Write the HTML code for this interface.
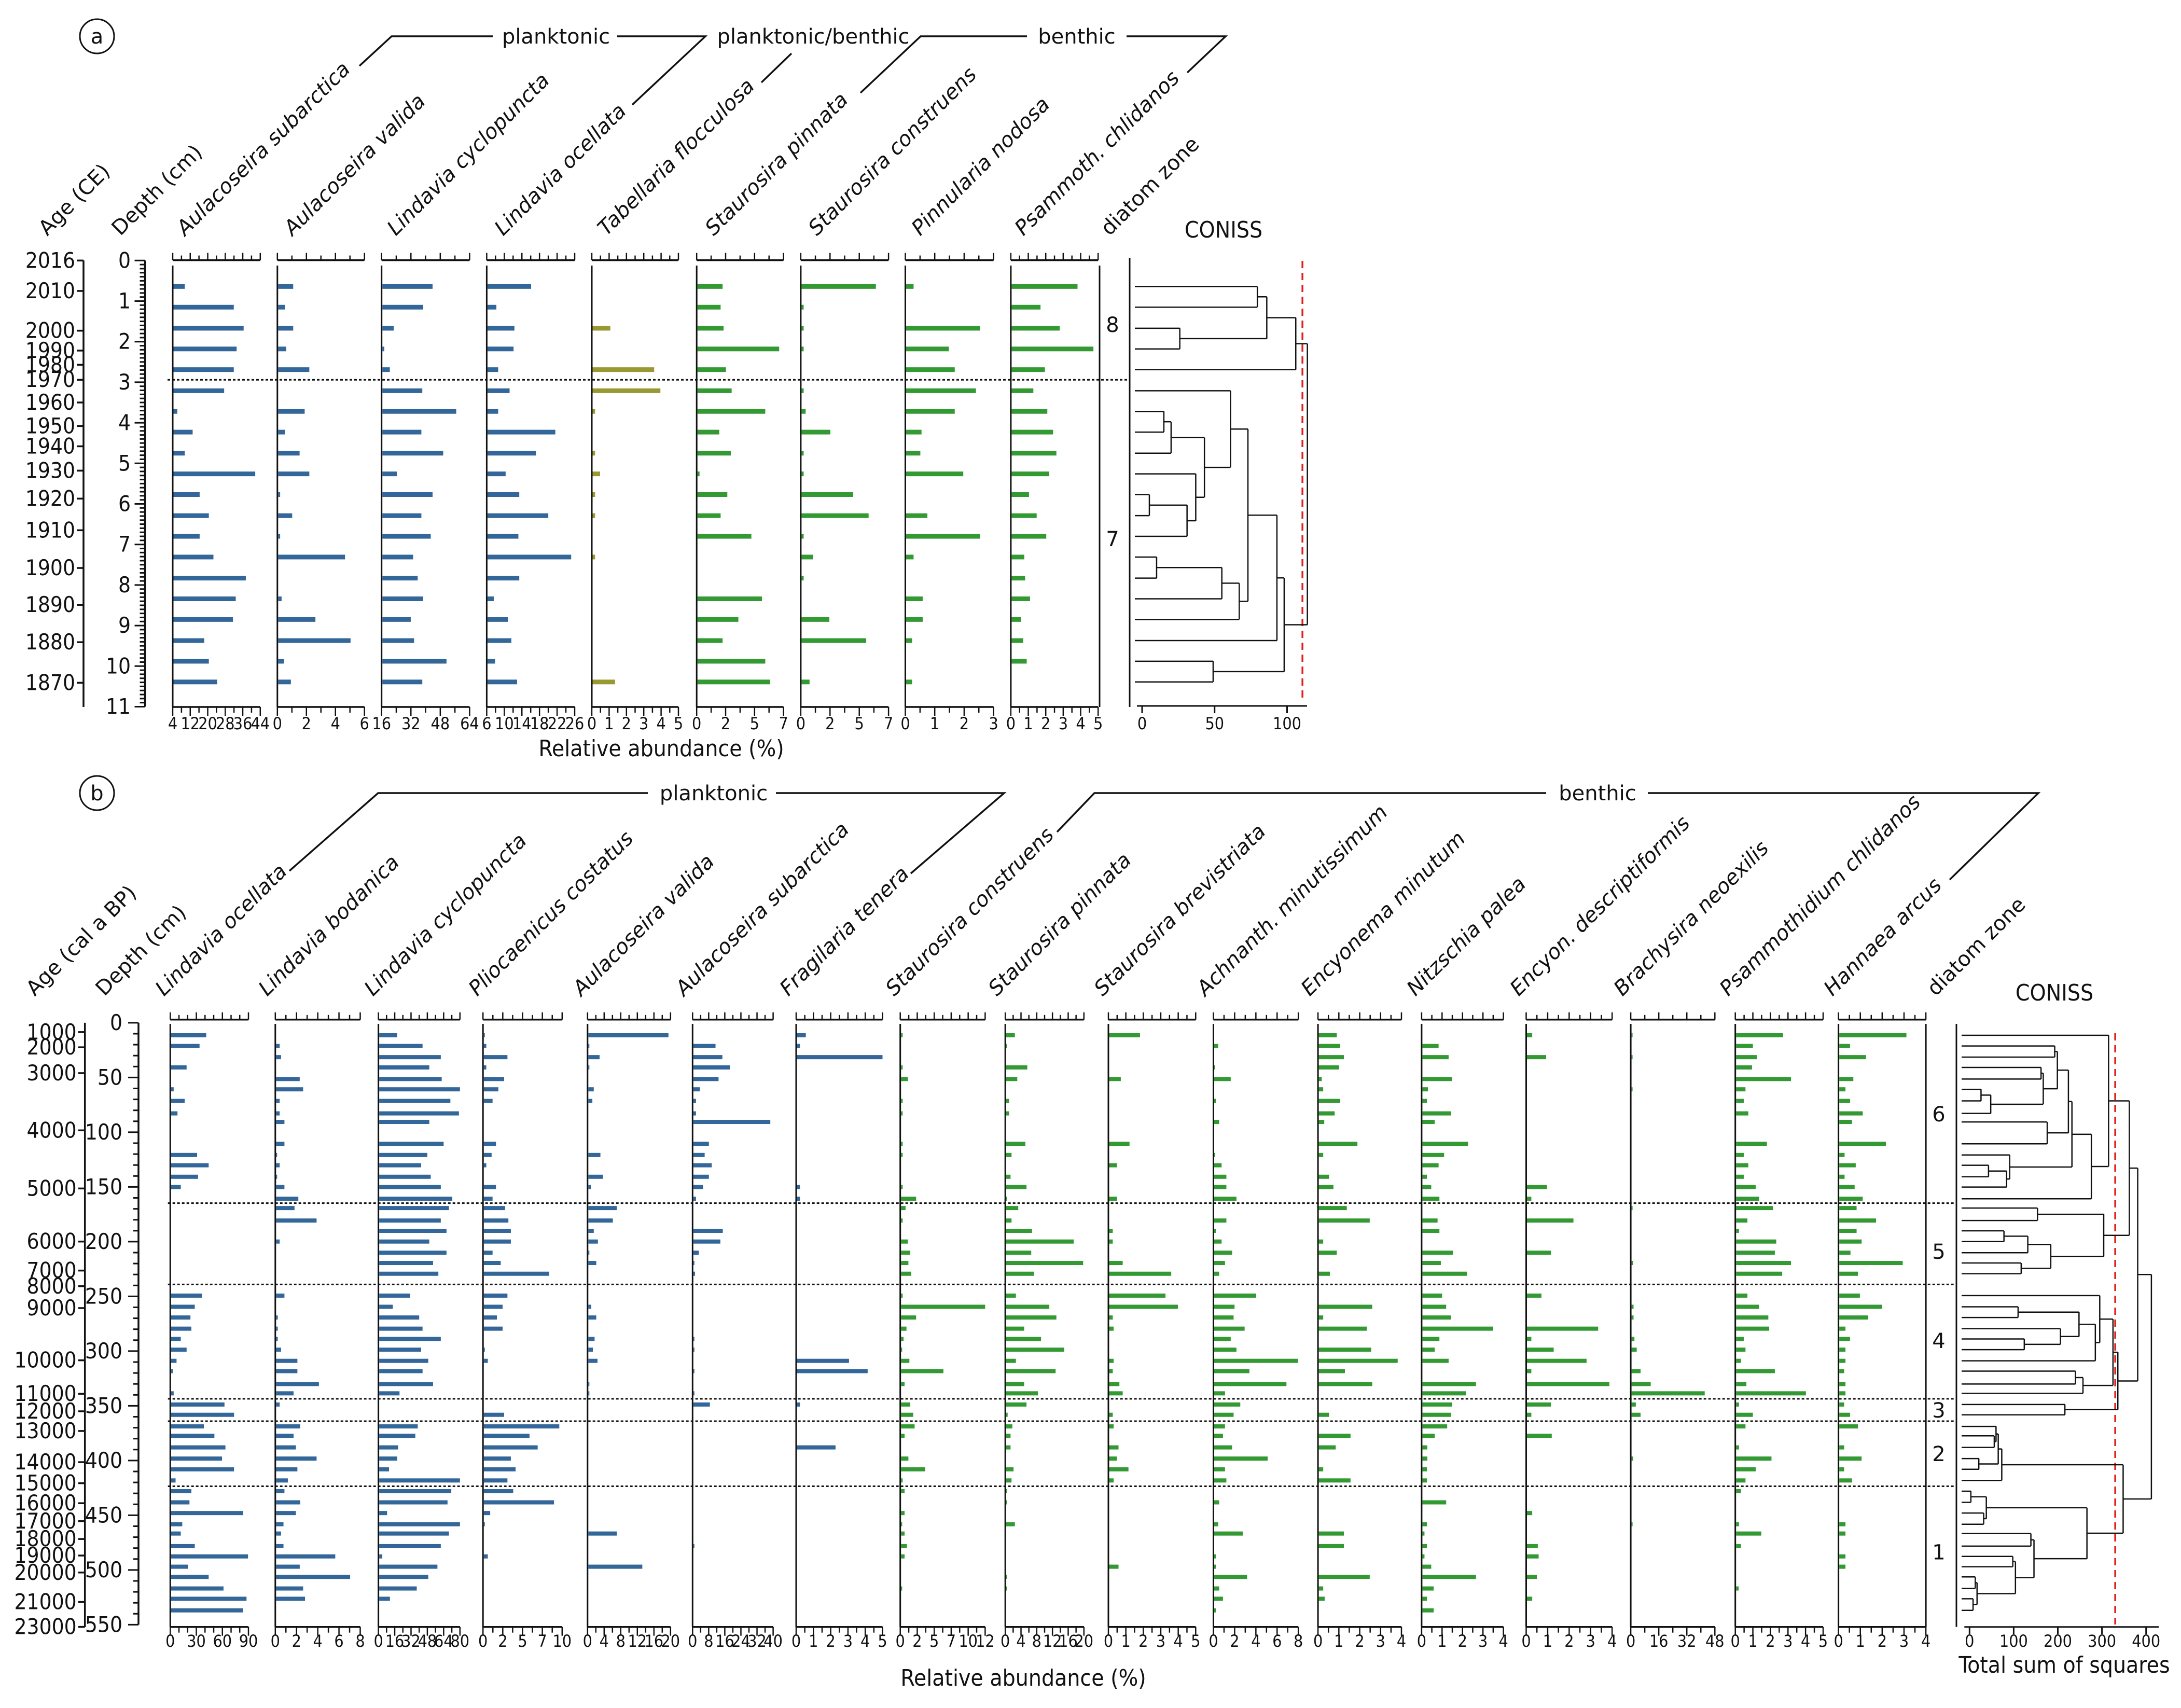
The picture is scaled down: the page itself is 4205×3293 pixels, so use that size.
<!DOCTYPE html>
<html><head><meta charset="utf-8">
<style>
html,body{margin:0;padding:0;background:#fff;}
svg{display:block;}
text{font-family:"DejaVu Sans","Liberation Sans",sans-serif;fill:#111;}
.nar{font-family:"Liberation Sans Narrow","DejaVu Sans Condensed","Liberation Sans",sans-serif;}
</style></head>
<body>
<svg id="chart" xmlns="http://www.w3.org/2000/svg" width="4205" height="3293" viewBox="0 0 4205 3293">
<rect x="0" y="0" width="4205" height="3293" fill="#fff"/>
<g>
<circle cx="187" cy="70" r="33" fill="none" stroke="#111" stroke-width="3"/>
<text x="187" y="84" font-size="40" text-anchor="middle">a</text>
<polyline points="693,127 755,70 950,70" fill="none" stroke="#111" stroke-width="3.5"/>
<polyline points="1190,70 1360,70 1219,202" fill="none" stroke="#111" stroke-width="3.5"/>
<text x="1072" y="84" font-size="40" text-anchor="middle">planktonic</text>
<line x1="1526" y1="103" x2="1468" y2="159" stroke="#111" stroke-width="3.5"/>
<text x="1568" y="84" font-size="40" text-anchor="middle">planktonic/benthic</text>
<polyline points="1659,179 1775,70 1980,70" fill="none" stroke="#111" stroke-width="3.5"/>
<text x="2076" y="84" font-size="40" text-anchor="middle">benthic</text>
<polyline points="2172,70 2363,70 2289,140" fill="none" stroke="#111" stroke-width="3.5"/>
<text x="2359" y="458" font-size="44" text-anchor="middle" class="nar">CONISS</text>
</g>
<g>
<circle cx="187" cy="1529" r="33" fill="none" stroke="#111" stroke-width="3"/>
<text x="187" y="1543" font-size="40" text-anchor="middle">b</text>
<polyline points="558,1679 729,1529 1249,1529" fill="none" stroke="#111" stroke-width="3.5"/>
<text x="1376" y="1543" font-size="40" text-anchor="middle">planktonic</text>
<polyline points="1496,1529 1936,1529 1756,1684" fill="none" stroke="#111" stroke-width="3.5"/>
<polyline points="2038,1604 2110,1529 2981,1529" fill="none" stroke="#111" stroke-width="3.5"/>
<text x="3080" y="1543" font-size="40" text-anchor="middle">benthic</text>
<polyline points="3177,1529 3930,1529 3759,1696" fill="none" stroke="#111" stroke-width="3.5"/>
<text x="3961" y="1929" font-size="44" text-anchor="middle" class="nar">CONISS</text>
</g>
</svg>
<script>
// ---------------- DATA: panel a ----------------
const aDepths=[0.64,1.15,1.67,2.18,2.69,3.21,3.72,4.23,4.75,5.26,5.77,6.29,6.80,7.31,7.83,8.34,8.85,9.37,9.88,10.39];
const aNames=["Age (CE)","Depth (cm)","Aulacoseira subarctica","Aulacoseira valida","Lindavia cyclopuncta","Lindavia ocellata","Tabellaria flocculosa","Staurosira pinnata","Staurosira construens","Pinnularia nodosa","Psammoth. chlidanos","diatom zone"];
const aAgeLabels=["2016","2010","2000","1990","1980","1970","1960","1950","1940","1930","1920","1910","1900","1890","1880","1870"];
const aAgeDepths=[0,0.75,1.73,2.22,2.57,2.94,3.5,4.08,4.58,5.18,5.87,6.65,7.58,8.49,9.41,10.41];
const aSubarctica=[9.5,31.9,36.4,33.2,31.9,27.5,6.1,13.1,9.5,41.7,16.3,20.5,16.3,22.6,37.4,32.8,31.5,18.4,20.5,24.3];
const aValida=[1.09,0.51,1.09,0.61,2.2,0,1.88,0.51,1.53,2.2,0.19,1.02,0.19,4.66,0,0.29,2.62,5.04,0.45,0.93];
const aCyclopuncta=[43.8,38.7,22.6,17.5,20.5,38.2,56.7,37.7,49.6,24.3,43.8,37.7,42.8,33.2,35.7,38.7,31.9,33.7,51.4,38.2];
const aOcellata=[16.1,8.2,12.3,12.1,8.6,11.2,8.6,21.6,17.2,10.3,13.4,20,13.2,25.2,13.4,7.6,10.8,11.6,7.9,12.9];
const aTabellaria=[0,0,1.07,0,3.6,3.96,0.19,0,0.19,0.48,0.19,0.19,0,0.19,0,0,0,0,0,1.34];
const aPinnata=[2.09,1.93,2.17,6.65,2.36,2.82,5.53,1.82,2.75,0.23,2.47,1.93,4.41,0,0,5.26,3.36,2.09,5.53,5.92];
const aConstruens=[5.99,0.23,0.23,0.23,0,0.23,0.39,2.36,0.23,0.23,4.18,5.41,0.23,0.97,0.23,0,2.28,5.22,0,0.7];
const aNodosa=[0.28,0,2.54,1.48,1.68,2.4,1.68,0.55,0.51,1.97,0,0.75,2.54,0.28,0,0.59,0.59,0.23,0,0.23];
const aChlidanos=[3.82,1.7,2.8,4.73,1.95,1.29,2.09,2.42,2.61,2.2,1.04,1.48,2.03,0.77,0.82,1.1,0.58,0.71,0.91,0];
const aZoneBounds=[2.94];
const aZoneLabels=["8","7"];
const aZoneDepths=[1.58,6.86];
const aMergeL=[0,2,20,22,6,24,10,26,9,25,5,13,31,32,30,34,18,35,23];
const aMergeR=[1,3,21,4,7,8,11,12,27,28,29,14,15,16,33,17,19,36,37];
const aMergeH=[79.5,26,86,106,15,20,5,31,37,43,61,10,55,67,73,93,49,98,114];
const aConissTicks=[0,50,100];
const aConissCut=[110.6];

// ---------------- DATA: panel b ----------------
const bDepths=[11.4,21.2,31.4,40.8,51.4,60.8,71.4,82.8,90.6,110.6,120.8,130.2,140.7,150.1,160.8,169.3,180.7,190.1,199.9,210.1,219.5,229.3,249.3,259.5,269.3,279.5,288.9,298.7,308.9,318.3,330.1,338.6,348.8,358.2,368.8,377.4,388.0,398.2,408.0,418.2,428.0,438.2,448.0,458.2,466.7,478.2,487.6,497.0,506.3,516.9,526.3,536.9];
const bNames=["Age (cal a BP)","Depth (cm)","Lindavia ocellata","Lindavia bodanica","Lindavia cyclopuncta","Pliocaenicus costatus","Aulacoseira valida","Aulacoseira subarctica","Fragilaria tenera","Staurosira construens","Staurosira pinnata","Staurosira brevistriata","Achnanth. minutissimum","Encyonema minutum","Nitzschia palea","Encyon. descriptiformis","Brachysira neoexilis","Psammothidium chlidanos","Hannaea arcus","diatom zone"];
const bAgeLabels=["1000","2000","3000","4000","5000","6000","7000","8000","9000","10000","11000","12000","13000","14000","15000","16000","17000","18000","19000","20000","21000","23000"];
const bAgeDepths=[8.5,22.4,46,98.3,151.4,199.9,226.4,240.7,260.7,308.4,339,355,373,401.5,420.7,439,455.4,471.7,486.8,502.3,529.2,552];
function sparse(n,pairs){const a=new Array(n).fill(0);for(const k in pairs)a[k]=pairs[k];return a;}
const bOcellata=[41.4,33.7,0,18.8,0,3.9,16.6,8.3,0,0,30.9,44.2,32,12.1,0,0,0,0,0,0,0,0,36.4,28.2,23.2,24.3,12.1,18.8,7.2,2.8,0,3.9,62.4,73.4,38.7,50.8,63.5,59.6,73.4,6.1,24.3,22.1,83.9,13.8,12.1,28.2,89.5,20.4,44.2,61.3,87.8,83.9];
const bBodanica=[0,0.41,0.54,0,2.3,2.62,0.41,0.41,0.86,0.86,0.09,0.41,0.09,0.86,2.17,1.81,3.89,0,0.41,0,0,0,0.86,0,0.23,0.23,0.23,0.54,2.08,2.08,4.11,1.72,0.41,0,2.35,1.72,1.94,3.89,2.08,1.18,0.86,2.35,1.94,0.77,0.54,0.77,5.65,2.3,7.05,2.62,2.8,0];
const bCyclopuncta=[18.4,43.3,61.2,49.9,62.1,80,70.6,79,49.9,64,48,41.9,51.3,61.2,72.5,69.2,61.2,66.8,49.9,66.8,53.6,58.8,31.1,14.1,40,43.3,61.2,41.9,48.9,43.3,53.6,20.7,0,0,38.6,36.2,19.3,18.4,10.4,80,71.5,67.8,8.5,80,69.2,61.2,3.8,57.9,48.9,37.6,11.3,0];
const bPliocaenicus=[0.18,0.42,3.09,0.42,2.67,1.94,1.21,0,0,1.64,1.09,0.42,0,1.64,1.21,2.79,3.21,3.52,3.52,1.21,2.24,8.36,3.09,2.48,1.76,2.48,0,0.18,0.61,0,0,0,0,2.67,9.64,5.88,6.91,3.52,4.12,3.09,3.82,8.97,0.91,0.18,0,0,0.61,0,0,0,0,0];
const bValida=[19.5,0.35,2.9,0.35,0,1.5,1.16,0,0,0,3.1,0,3.7,0.8,0,7.05,6.1,1.5,2.5,0.35,2.1,0,0,0.9,2.1,0,1.7,1.3,2.4,0,0.35,0.35,0,0,0,0,0,0,0,0,0,0,0,0,7.05,0,0,13.2,0,0,0,0];
const bSubarctica=[0,11.4,14.8,18.6,12.9,3.6,1.7,1.7,38.6,8.1,6,9.5,8.1,5.2,1.7,0,0,15,13.8,3.1,0.7,1.2,0,0,0,0,0.5,0.5,0,0.5,0,0.7,8.6,0,0,0,0,0,0,0,0,0,0,0,0,0.5,0,0,0,0,0,0];
const bTenera=sparse(52,{0:0.56,1:0.22,2:5.0,13:0.22,14:0.22,28:3.06,29:4.14,32:0.22,36:2.28});
const bConstruens=sparse(52,{0:0.34,3:0.34,4:1.08,6:0.34,7:0.34,9:0.34,10:0.34,13:0.34,14:2.24,15:0.75,16:0.34,18:1.08,19:1.42,20:1.15,21:1.56,22:0.34,23:12,24:2.24,25:0.88,26:0.47,27:0.27,28:1.29,29:6.1,30:0.61,32:1.42,33:1.83,34:2.03,35:0.61,37:1.15,38:3.53,39:0.34,40:0.61,42:0.61,43:0.27,44:0.61,45:0.95,46:0.61,49:0.27});
const bPinnata=sparse(52,{0:2.44,1:0.37,3:5.6,4:3.05,6:0.98,7:0.98,9:5.1,10:1.59,12:1.34,13:5.4,14:0.37,15:3.3,16:1.59,17:6.8,18:17.4,19:6.6,20:19.8,21:7.3,22:2.7,23:11.2,24:13,25:4.8,26:9.1,27:15,28:2.7,29:12.8,30:4.8,31:8.3,32:5.4,33:0.6,34:1.8,35:1.34,36:1.34,38:2.1,39:1.59,40:0.37,41:0.37,43:2.44,48:0.37,49:0.37});
const bBrevistriata=sparse(52,{0:1.81,4:0.71,9:1.21,11:0.49,14:0.49,17:0.25,18:0.25,20:0.82,21:3.6,22:3.27,23:3.98,24:0.25,25:0.3,28:0.3,29:0.25,30:0.63,31:0.82,33:0.25,34:0.3,36:0.58,37:0.49,38:1.15,39:0.3,47:0.58});
const bMinutissimum=sparse(52,{1:0.45,3:0.09,4:1.63,6:0.23,8:0.54,10:0.09,11:0.77,12:1.22,13:1.22,14:2.17,16:1.22,17:0.23,18:0.77,19:1.76,20:1.09,21:0.54,22:4.03,23:1.99,24:1.9,25:2.94,26:1.63,27:2.17,28:7.96,29:3.39,30:6.88,31:1.09,32:2.53,33:1.9,34:1.09,35:0.9,36:1.76,37:5.11,38:1.09,39:1.22,41:0.54,43:0.45,44:2.76,46:0.23,47:0.23,48:3.17,49:0.54,50:0.9,51:0.23});
const bMinutum=sparse(52,{0:0.9,1:1.06,2:1.24,3:1.01,4:0.18,5:0.25,6:1.06,7:0.8,8:0.3,9:1.89,10:0.25,12:0.53,13:0.74,15:1.38,16:2.48,18:0.25,19:0.9,21:0.57,23:2.6,24:0.25,25:2.34,27:2.55,28:3.82,29:1.29,30:2.6,33:0.53,35:1.56,36:0.85,38:0.25,39:1.56,44:1.24,45:1.24,48:2.48,49:0.25,50:0.32});
const bPalea=sparse(52,{1:0.83,2:1.32,4:1.49,5:0.31,6:0.26,7:1.44,8:0.64,9:2.27,10:1.1,11:0.83,12:0.26,13:0.47,14:0.87,16:0.78,17:0.87,19:1.53,20:0.94,21:2.22,22:1.0,23:1.2,24:1.44,25:3.5,26:0.87,27:0.64,28:1.32,30:2.66,31:2.16,32:1.49,33:1.44,34:1.25,35:0.64,36:0.28,37:0.28,38:0.26,39:0.26,41:1.2,43:0.26,44:0.14,45:0.26,46:0.14,47:0.47,48:2.66,49:0.59,50:0.26,51:0.59});
const bDescriptiformis=sparse(52,{0:0.28,2:0.93,13:0.97,14:0.24,16:2.2,19:1.15,22:0.71,25:3.35,26:0.24,27:1.28,28:2.81,29:0.24,30:3.87,32:1.15,33:0.24,35:1.19,42:0.28,45:0.54,46:0.58,48:0.5,50:0.28});
const bNeoexilis=sparse(52,{0:0.3,2:0.3,5:0.3,15:0.3,20:1.3,23:1.6,24:1.6,26:2.1,27:3.4,29:5.6,30:11.4,31:42.2,32:2.9,33:5.6,37:1.3,43:0.3});
const bChlidanos=[2.72,1.0,1.22,0.95,3.17,0.58,0.48,0.74,0,1.8,0.48,0.74,0.48,1.16,1.35,2.14,0.69,0.21,2.33,2.25,3.17,2.67,0.69,1.35,1.88,1.93,0.48,0.58,0.32,2.25,0.63,4.02,0.21,1.0,0.58,0,0.21,2.06,1.16,0.58,0.32,0,0,0.21,1.48,0.32,0,0,0,0.19,0,0];
const bArcus=[3.11,0.53,1.26,0,0.68,0.32,0.53,1.11,0.62,2.17,0.28,0.79,0.28,0.74,1.11,0.83,1.72,0.83,1.06,0.55,2.94,0.89,0.98,2,1.36,0.32,0.53,0.32,0.32,0.26,0.32,0.32,0.26,0.53,0.89,0,0.26,1.06,0.26,0.62,0,0,0,0.32,0.32,0,0.32,0.32,0,0,0,0];
const bZoneBounds=[164.8,239.1,343.6,364,423.5];
const bZoneLabels=["6","5","4","3","2","1"];
const bZoneDepths=[83.5,209,290.6,354,394,483.6];
const bMergeL=[1,3,5,54,53,52,8,57,11,60,10,59,63,0,15,17,67,20,68,66,65,23,26,25,73,76,22,29,79,78,32,81,72,35,34,37,86,88,40,42,90,44,46,48,50,95,94,93,92,89,84];
const bMergeR=[2,4,6,7,55,56,9,58,12,13,61,62,14,64,16,18,19,21,69,70,71,24,27,74,75,28,77,30,31,80,33,82,83,36,85,38,87,39,41,43,91,45,47,49,51,96,97,98,99,100,101];
const bMergeH=[193,162,26,48,167,199,176,224,43,84,91,232,276,315,154,78,132,117,184,304,362,110,124,206,248,285,295,240,257,325,216,336,381,56,60,21,65,73,3,32,38,139,98,13,8,17,104,146,266,348,412];
const bConissTicks=[0,100,200,300,400];
const bConissCut=[330];

// ---------------- drawing helpers ----------------
const NS='http://www.w3.org/2000/svg';
const svg=document.getElementById('chart');
function mk(tag,attrs,parent){const e=document.createElementNS(NS,tag);for(const k in attrs)e.setAttribute(k,attrs[k]);(parent||svg).appendChild(e);return e;}
function line(x1,y1,x2,y2,w,p,name,extra){const e=mk('line',Object.assign({x1:x1,y1:y1,x2:x2,y2:y2,stroke:'#111','stroke-width':w},extra||{}),p);


return e;}
function txt(x,y,s,size,anchor,p,name,extra){const e=mk('text',Object.assign({x:x,y:y,'font-size':size,'text-anchor':anchor},extra||{}),p);e.textContent=s;


return e;}
function group(name){const g=mk('g',{});


return g;}
function slug(s){return s.toLowerCase().replace(/[^a-z0-9]+/g,'-').replace(/^-|-$/g,'');}

function drawPanel(P){
  const yOf=d=>P.y0+d*P.k;
  const gh=group(P.id+'-column-titles');
  P.names.forEach((n,i)=>{
    const it=(i>=2&&i<P.names.length-1);
    const t=txt(P.labelX[i],P.labelY,n,P.labelSize,'start',gh,'column-title-'+slug(n),{transform:'rotate(-45 '+P.labelX[i]+' '+P.labelY+')'});
    if(it)t.setAttribute('font-style','italic');
  });
  const ga=group(P.id+'-age-axis');
  line(P.ageX,yOf(0),P.ageX,P.ageBottom,3.5,ga,'age-axis-line');
  P.ages.forEach((a,i)=>{const y=yOf(P.ageDepths[i]);
    line(P.ageX-13,y,P.ageX,y,3.5,ga,'age-tick');
    txt(P.ageX-16,y+14,a,P.tickSize,'end',ga,'age-label-'+a,{class:'nar'});});
  const gd=group(P.id+'-depth-axis');
  line(P.depthX,yOf(0),P.depthX,yOf(P.dmax),3.5,gd,'depth-axis-line');
  const nMin=Math.round(P.dmax/P.minor);
  for(let i=0;i<=nMin;i++){const d=i*P.minor;const maj=Math.abs(d/P.major-Math.round(d/P.major))<1e-6;
    line(maj?P.depthX-20:P.depthX-10,yOf(d),P.depthX,yOf(d),3,gd,maj?'depth-major-tick':'depth-minor-tick');
    if(maj)txt(P.depthLabelX,yOf(d)+14,String(Math.round(d)),P.tickSize,'end',gd,'depth-label-'+Math.round(d),{class:'nar'});}
  P.cols.forEach((c,ci)=>{
    const g=group(P.id+'-column-'+slug(P.names[ci+2]));
    const sx=v=>c.x0+(v-c.lo)/(c.hi-c.lo)*(c.x1-c.x0);
    line(c.x0,P.topY,c.x1,P.topY,3.5,g,'top-axis-line');
    for(let t=0;t<=c.nt;t++){const x=c.x0+t/c.nt*(c.x1-c.x0);const maj=c.labels.some(l=>l[0]===t);
      line(x,P.topY-(maj?14:9),x,P.topY,2.5,g,'top-axis-tick');
      line(x,P.botY,x,P.botY+(maj?17:11),2.5,g,'bottom-axis-tick');}
    line(c.x0,P.botY,c.x1,P.botY,3.5,g,'bottom-axis-line');
    c.labels.forEach(l=>{const x=c.x0+l[0]/c.nt*(c.x1-c.x0);txt(x,P.botLabelY,l[1],32,'middle',g,'x-tick-label-'+l[1],{class:'nar'});});
    line(c.x0,P.colTop,c.x0,P.botY,3,g,'column-baseline');
    c.vals.forEach((v,i)=>{ if(!(v>c.lo))return;
      const r=mk('rect',{x:c.x0+1.5,y:yOf(P.depths[i])-P.barH/2,width:Math.max(2,sx(v)-c.x0-1.5),height:P.barH,fill:c.color},g);
      
      
    });
  });
  const gz=group(P.id+'-diatom-zones');
  line(P.zoneX,P.colTop,P.zoneX,P.botY,3,gz,'zone-column-line');
  P.zoneLabels.forEach((z,i)=>txt(P.zoneLabelX,yOf(P.zoneDepths[i])+14,z,40,'middle',gz,'zone-label-'+z));
  P.zoneBounds.forEach(d=>line(P.dotX0,yOf(d),P.dotX1,yOf(d),3,gz,'zone-boundary',{'stroke-dasharray':'5 4'}));
  const gc=group(P.id+'-coniss-dendrogram');
  const cx=v=>P.cx0+v*P.ck;
  line(P.cLineX,P.cLineTop,P.cLineX,P.botY,3,gc,'coniss-frame-line');
  line(cx(0)-10,P.cAxisY,P.cAxisEnd,P.cAxisY,3,gc,'coniss-axis-line');
  P.cTicks.forEach(t=>{line(cx(t),P.cAxisY,cx(t),P.cAxisY+14,3,gc,'coniss-tick');
    txt(cx(t),P.botLabelY,String(t),32,'middle',gc,'coniss-tick-label-'+t,{class:'nar'});});
  P.cCut.forEach(v=>line(cx(v),P.cutTop,cx(v),P.cutBot,3.5,gc,'coniss-cut-line',{stroke:'#e0201a','stroke-dasharray':'14 9'}));
  const N=P.depths.length;const ny={},nx={};
  for(let i=0;i<N;i++){ny[i]=yOf(P.depths[i]);nx[i]=P.leafX;}
  P.mL.forEach((a,k)=>{const b=P.mR[k],h=P.mH[k],id=N+k,x=cx(h);
    line(nx[a],ny[a],x,ny[a],2.5,gc,'dendrogram-branch');
    line(nx[b],ny[b],x,ny[b],2.5,gc,'dendrogram-branch');
    line(x,ny[a],x,ny[b],2.5,gc,'dendrogram-join');
    ny[id]=(ny[a]+ny[b])/2;nx[id]=x;});
  txt(P.relX,P.relY,'Relative abundance (%)',44,'middle',svg,P.id+'-x-axis-title',{class:'nar'});
}

const BLUE='#336699',GREEN='#339933',OLIVE='#999933';
drawPanel({id:'panel-a',y0:502.3,k:78.2,dmax:11,minor:0.1,major:1,depths:aDepths,names:aNames,
  labelX:[91,232,357,564,763,970,1169,1376,1575,1774,1973,2139],labelY:456,labelSize:40,
  ages:aAgeLabels,ageDepths:aAgeDepths,ageX:161,ageBottom:1363,depthX:279.5,depthLabelX:252,tickSize:42,
  topY:501.6,colTop:512,botY:1363,botLabelY:1406,barH:9,
  cols:[
   {x0:333,x1:501.8,lo:4,hi:44,nt:10,labels:[[0,'4'],[2,'12'],[4,'20'],[6,'28'],[8,'36'],[10,'44']],color:BLUE,vals:aSubarctica},
   {x0:534.8,x1:702.7,lo:0,hi:6,nt:6,labels:[[0,'0'],[2,'2'],[4,'4'],[6,'6']],color:BLUE,vals:aValida},
   {x0:735.7,x1:905.4,lo:16,hi:64,nt:6,labels:[[0,'16'],[2,'32'],[4,'48'],[6,'64']],color:BLUE,vals:aCyclopuncta},
   {x0:938.4,x1:1108,lo:6,hi:26,nt:10,labels:[[0,'6'],[2,'10'],[4,'14'],[6,'18'],[8,'22'],[10,'26']],color:BLUE,vals:aOcellata},
   {x0:1141,x1:1308,lo:0,hi:5,nt:10,labels:[[0,'0'],[2,'1'],[4,'2'],[6,'3'],[8,'4'],[10,'5']],color:OLIVE,vals:aTabellaria},
   {x0:1343.2,x1:1510.6,lo:0,hi:7,nt:6,labels:[[0,'0'],[2,'2'],[4,'5'],[6,'7']],color:GREEN,vals:aPinnata},
   {x0:1543.9,x1:1713.1,lo:0,hi:7,nt:6,labels:[[0,'0'],[2,'2'],[4,'5'],[6,'7']],color:GREEN,vals:aConstruens},
   {x0:1745.5,x1:1915.6,lo:0,hi:3,nt:6,labels:[[0,'0'],[2,'1'],[4,'2'],[6,'3']],color:GREEN,vals:aNodosa},
   {x0:1948.9,x1:2117.2,lo:0,hi:5,nt:10,labels:[[0,'0'],[2,'1'],[4,'2'],[6,'3'],[8,'4'],[10,'5']],color:GREEN,vals:aChlidanos}],
  zoneX:2120,zoneLabelX:2145,zoneLabels:aZoneLabels,zoneDepths:aZoneDepths,zoneBounds:aZoneBounds,dotX0:323,dotX1:2178,
  cx0:2202,ck:2.795,cLineX:2178,cLineTop:497,cAxisY:1361,cAxisEnd:2520,cTicks:aConissTicks,cCut:aConissCut,cutTop:503,cutBot:1354,
  leafX:2188,mL:aMergeL,mR:aMergeR,mH:aMergeH,relX:1275,relY:1458});

drawPanel({id:'panel-b',y0:1971.9,k:2.110,dmax:550,minor:10,major:50,depths:bDepths,names:bNames,
  labelX:[67,201,316,515,719,920,1121,1319,1520,1724,1922,2126,2324,2525,2729,2928,3128,3332,3533,3732],labelY:1922,labelSize:40,
  ages:bAgeLabels,ageDepths:bAgeDepths,ageX:163.7,ageBottom:3137,depthX:267,depthLabelX:236,tickSize:42,
  topY:1965.8,colTop:1974,botY:3136.7,botLabelY:3175,barH:8,
  cols:[
   {x0:328.3,x1:479,lo:0,hi:90,nt:9,labels:[[0,'0'],[3,'30'],[6,'60'],[9,'90']],color:BLUE,vals:bOcellata},
   {x0:530.8,x1:694.5,lo:0,hi:8,nt:8,labels:[[0,'0'],[2,'2'],[4,'4'],[6,'6'],[8,'8']],color:BLUE,vals:bBodanica},
   {x0:729.6,x1:886.8,lo:0,hi:80,nt:10,labels:[[0,'0'],[2,'16'],[4,'32'],[6,'48'],[8,'64'],[10,'80']],color:BLUE,vals:bCyclopuncta},
   {x0:931.2,x1:1083.8,lo:0,hi:10,nt:8,labels:[[0,'0'],[2,'2'],[4,'5'],[6,'7'],[8,'10']],color:BLUE,vals:bPliocaenicus},
   {x0:1132.8,x1:1292.8,lo:0,hi:20,nt:10,labels:[[0,'0'],[2,'4'],[4,'8'],[6,'12'],[8,'16'],[10,'20']],color:BLUE,vals:bValida},
   {x0:1335.3,x1:1490.6,lo:0,hi:40,nt:10,labels:[[0,'0'],[2,'8'],[4,'16'],[6,'24'],[8,'32'],[10,'40']],color:BLUE,vals:bSubarctica},
   {x0:1535,x1:1701.5,lo:0,hi:5,nt:10,labels:[[0,'0'],[2,'1'],[4,'2'],[6,'3'],[8,'4'],[10,'5']],color:BLUE,vals:bTenera},
   {x0:1735.7,x1:1899.4,lo:0,hi:12,nt:10,labels:[[0,'0'],[2,'2'],[4,'5'],[6,'7'],[8,'10'],[10,'12']],color:GREEN,vals:bConstruens},
   {x0:1938.2,x1:2089.8,lo:0,hi:20,nt:10,labels:[[0,'0'],[2,'4'],[4,'8'],[6,'12'],[8,'16'],[10,'20']],color:GREEN,vals:bPinnata},
   {x0:2137,x1:2305.3,lo:0,hi:5,nt:10,labels:[[0,'0'],[2,'1'],[4,'2'],[6,'3'],[8,'4'],[10,'5']],color:GREEN,vals:bBrevistriata},
   {x0:2339.5,x1:2503.2,lo:0,hi:8,nt:8,labels:[[0,'0'],[2,'2'],[4,'4'],[6,'6'],[8,'8']],color:GREEN,vals:bMinutissimum},
   {x0:2541.1,x1:2702,lo:0,hi:4,nt:8,labels:[[0,'0'],[2,'1'],[4,'2'],[6,'3'],[8,'4']],color:GREEN,vals:bMinutum},
   {x0:2740.9,x1:2898.6,lo:0,hi:4,nt:8,labels:[[0,'0'],[2,'1'],[4,'2'],[6,'3'],[8,'4']],color:GREEN,vals:bPalea},
   {x0:2942.5,x1:3108.2,lo:0,hi:4,nt:8,labels:[[0,'0'],[2,'1'],[4,'2'],[6,'3'],[8,'4']],color:GREEN,vals:bDescriptiformis},
   {x0:3144.1,x1:3306.3,lo:0,hi:48,nt:6,labels:[[0,'0'],[2,'16'],[4,'32'],[6,'48']],color:GREEN,vals:bNeoexilis},
   {x0:3345.7,x1:3515,lo:0,hi:5,nt:10,labels:[[0,'0'],[2,'1'],[4,'2'],[6,'3'],[8,'4'],[10,'5']],color:GREEN,vals:bChlidanos},
   {x0:3544.6,x1:3713.1,lo:0,hi:4,nt:8,labels:[[0,'0'],[2,'1'],[4,'2'],[6,'3'],[8,'4']],color:GREEN,vals:bArcus}],
  zoneX:3713.1,zoneLabelX:3738,zoneLabels:bZoneLabels,zoneDepths:bZoneDepths,zoneBounds:bZoneBounds,dotX0:323.7,dotX1:3772,
  cx0:3797.3,ck:0.851,cLineX:3772,cLineTop:1974,cAxisY:3136.7,cAxisEnd:4162,cTicks:bConissTicks,cCut:bConissCut,cutTop:1992,cutBot:3132,
  leafX:3782,mL:bMergeL,mR:bMergeR,mH:bMergeH,relX:1973,relY:3250});

const tss=txt(3980,3225,'Total sum of squares',44,'middle',svg,'coniss-x-axis-title',{class:'nar'});
</script>
</body></html>
